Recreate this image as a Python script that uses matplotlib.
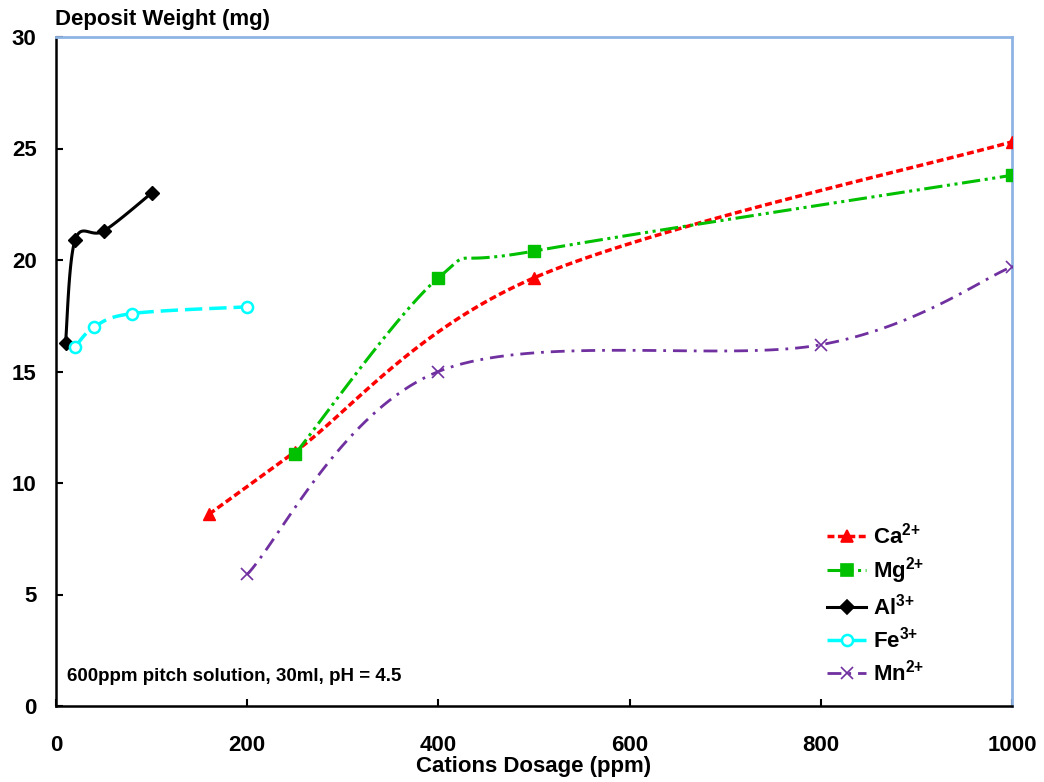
import numpy as np
import matplotlib
matplotlib.use("Agg")
import matplotlib.pyplot as plt
from matplotlib.lines import Line2D

plt.rcParams['font.family'] = ['Liberation Sans', 'DejaVu Sans']
plt.rcParams['font.weight'] = 'bold'
plt.rcParams['mathtext.fontset'] = 'custom'
plt.rcParams['mathtext.rm'] = 'Liberation Sans:bold'
plt.rcParams['mathtext.it'] = 'Liberation Sans:bold'
plt.rcParams['mathtext.bf'] = 'Liberation Sans:bold'
plt.rcParams['mathtext.default'] = 'rm'

ca_x = [160, 250, 500, 1000]
ca_y = [8.6, 11.4, 19.2, 25.3]
mg_x = [250, 400, 500, 1000]
mg_y = [11.3, 19.2, 20.4, 23.8]
al_x = [10, 20, 50, 100]
al_y = [16.3, 20.9, 21.3, 23.0]
fe_x = [20, 40, 80, 200]
fe_y = [16.1, 17.0, 17.6, 17.9]
mn_x = [200, 400, 800, 1000]
mn_y = [5.9, 15.0, 16.2, 19.7]

labels = ['Ca$^{2{+}}$', 'Mg$^{2{+}}$', 'Al$^{3{+}}$', 'Fe$^{3{+}}$', 'Mn$^{2{+}}$']

XMAX, YMAX = 1000.0, 30.0
W_PX, H_PX = 956.0, 669.0


def smooth(xs, ys, n=40):
    # Excel-style smoothed line (Catmull-Rom Bezier) computed in pixel space
    P = np.column_stack([np.asarray(xs) / XMAX * W_PX, np.asarray(ys) / YMAX * H_PX])
    m = len(P)
    out = []
    t = np.linspace(0, 1, n)
    for i in range(m - 1):
        p0 = P[i]
        p3 = P[i + 1]
        pm = P[i - 1] if i > 0 else P[i]
        pp = P[i + 2] if i + 2 < m else P[i + 1]
        c1 = p0 + (p3 - pm) / 6.0
        c2 = p3 - (pp - p0) / 6.0
        seg = ((1 - t) ** 3)[:, None] * p0 + (3 * (1 - t) ** 2 * t)[:, None] * c1 \
            + (3 * (1 - t) * t ** 2)[:, None] * c2 + (t ** 3)[:, None] * p3
        out.append(seg if i == 0 else seg[1:])
    S = np.vstack(out)
    return S[:, 0] * XMAX / W_PX, S[:, 1] * YMAX / H_PX


fig = plt.figure(figsize=(10.44, 7.82), dpi=100)
ax = fig.add_axes([56 / 1044, 1 - 706 / 782, 956 / 1044, 669 / 782])

series = [
    (ca_x, ca_y, '#FF0000', (0, (2.0, 1.0)), '^', 9, 'full', 2.5),
    (mg_x, mg_y, '#00C000', (0, (6, 1.5, 1, 1.5, 1, 1.5)), 's', 9, 'full', 2.2),
    (al_x, al_y, '#000000', '-', 'D', 7, 'full', 2.2),
    (fe_x, fe_y, '#00FFFF', (0, (5, 2)), 'o', 8, 'none', 2.5),
    (mn_x, mn_y, '#7030A0', (0, (5, 2.5, 1, 2.5)), 'x', 8, 'full', 2.0),
]

handles = []
for (xs, ys, c, ls, mk, ms, fill, lw), lab in zip(series, labels):
    sx, sy = smooth(xs, ys)
    ax.plot(sx, sy, color=c, linestyle=ls, linewidth=lw, zorder=2)
    if fill == 'none':
        ax.plot(xs, ys, linestyle='none', marker=mk, markersize=ms, markerfacecolor='white',
                markeredgecolor=c, markeredgewidth=1.8, zorder=3)
    else:
        ax.plot(xs, ys, linestyle='none', marker=mk, markersize=ms, color=c,
                markeredgewidth=1.2 if mk == 'x' else 1, zorder=3)
    handles.append(Line2D([], [], color=c, linestyle=ls, linewidth=lw, marker=mk, markersize=ms,
                          markerfacecolor=('white' if fill == 'none' else c), markeredgecolor=c,
                          markeredgewidth=1.8 if fill == 'none' else 1.2))

ax.set_xlim(0, 1000)
ax.set_ylim(0, 30)
ax.set_xticks([0, 200, 400, 600, 800, 1000])
ax.set_yticks([0, 5, 10, 15, 20, 25, 30])
ax.tick_params(direction='in', length=5, width=1.5, labelsize=16)
for lab in ax.get_xticklabels() + ax.get_yticklabels():
    lab.set_fontweight('bold')
ax.tick_params(axis='x', pad=21)
ax.tick_params(axis='y', pad=14)
ax.spines['left'].set_linewidth(1.8)
ax.spines['bottom'].set_linewidth(1.8)
ax.spines['top'].set_color('#8EB4E3')
ax.spines['right'].set_color('#8EB4E3')
ax.spines['top'].set_linewidth(2)
ax.spines['right'].set_linewidth(2)

ax.set_xlabel('Cations Dosage (ppm)', fontsize=16, fontweight='bold', labelpad=0)
fig.text(55 / 1044, 1 - 19 / 782, 'Deposit Weight (mg)', fontsize=16, fontweight='bold',
         ha='left', va='center')
ax.text(0.011, 0.044, '600ppm pitch solution, 30ml, pH = 4.5', transform=ax.transAxes,
        fontsize=13.5, fontweight='bold', ha='left', va='center')

leg = ax.legend(handles=handles, labels=labels, loc='lower left', bbox_to_anchor=(0.795, 0.014),
                frameon=False, fontsize=16, handlelength=1.75, handletextpad=0.3,
                labelspacing=0.32, borderpad=0)

fig.savefig('out.png', dpi=100)
